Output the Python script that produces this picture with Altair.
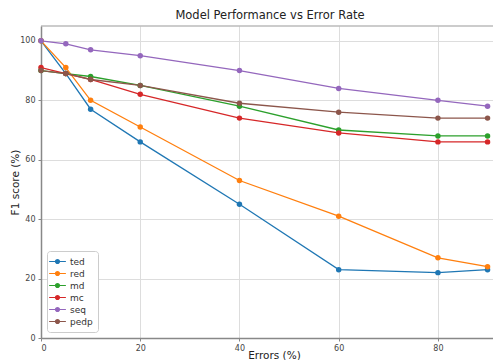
import altair as alt
import pandas as pd

errors = [0, 5, 10, 20, 40, 60, 80, 90]
series_names = ["ted", "red", "md", "mc", "seq", "pedp"]
ted = [100, 89, 77, 66, 45, 23, 22, 23]
red = [100, 91, 80, 71, 53, 41, 27, 24]
md = [90, 89, 88, 85, 78, 70, 68, 68]
mc = [91, 89, 87, 82, 74, 69, 66, 66]
seq = [100, 99, 97, 95, 90, 84, 80, 78]
pedp = [90, 89, 87, 85, 79, 76, 74, 74]
colors = ["#1f77b4", "#ff7f0e", "#2ca02c", "#d62728", "#9467bd", "#8c564b"]
x_ticks = [0, 20, 40, 60, 80]
y_ticks = [0, 20, 40, 60, 80, 100]
y_max = 105

values = {"ted": ted, "red": red, "md": md, "mc": mc, "seq": seq, "pedp": pedp}
rows = []
for name in series_names:
    for e, v in zip(errors, values[name]):
        rows.append({"Errors": e, "F1": v, "series": name})
df = pd.DataFrame(rows)

font = "DejaVu Sans"
legend_symbol = ("M-1.6,-0.1H1.6V0.1H-1.6Z "
                 "M0.5,0A0.5,0.5,0,1,1,-0.5,0A0.5,0.5,0,1,1,0.5,0Z")

color = alt.Color(
    "series:N",
    scale=alt.Scale(domain=series_names, range=colors),
    sort=series_names,
    legend=alt.Legend(
        title=None,
        orient="bottom-left",
        offset=6,
        padding=5,
        strokeColor="#cccccc",
        fillColor="white",
        cornerRadius=3,
        symbolType=legend_symbol,
        symbolSize=110,
        symbolStrokeWidth=0,
        labelFont=font,
        labelFontSize=9,
        labelColor="#333333",
        rowPadding=1,
        labelOffset=7,
    ),
)

x = alt.X(
    "Errors:Q",
    title="Errors (%)",
    scale=alt.Scale(domain=[0, 91.1], nice=False, zero=False),
    axis=alt.Axis(values=x_ticks, format="d", titleY=12, titleX=233,
                  titleAlign="center", titleBaseline="top"),
)
y = alt.Y(
    "F1:Q",
    title="F1 score (%)",
    scale=alt.Scale(domain=[0, y_max], nice=False),
    axis=alt.Axis(values=y_ticks, format="d", titleX=-26, titleY=156,
                  titleAngle=270, titleAlign="center", titleBaseline="middle"),
)

top_frame = alt.Chart(pd.DataFrame({"top": [y_max]})).mark_rule(
    color="#999999", strokeWidth=1
).encode(y=alt.Y("top:Q"))

lines = alt.Chart(df).mark_line(strokeWidth=1.3).encode(x=x, y=y, color=color, order="Errors:Q")
points = alt.Chart(df).mark_point(filled=True, size=30, opacity=1).encode(x=x, y=y, color=color)

chart = (
    alt.layer(lines, points, top_frame)
    .properties(
        width=452,
        height=312,
        title=alt.TitleParams("Model Performance vs Error Rate", font=font, fontSize=11.5,
                              fontWeight="normal", color="#222222", offset=4, dx=3),
        autosize=alt.AutoSizeParams(type="none"),
        padding={"left": 33, "top": 18, "right": 0, "bottom": 34},
    )
    .configure_view(stroke=None)
    .configure_axis(
        grid=True,
        gridColor="#dddddd",
        gridWidth=1,
        domainColor="#888888",
        domainWidth=1.5,
        tickColor="#888888",
        tickSize=3,
        labelFont=font,
        labelFontSize=8,
        labelColor="#444444",
        titleFont=font,
        titleFontSize=10.5,
        titleFontWeight="normal",
        titleColor="#222222",
        labelPadding=3,
    )
)

chart.save("out.html", embed_options={"renderer": "svg", "actions": False})
